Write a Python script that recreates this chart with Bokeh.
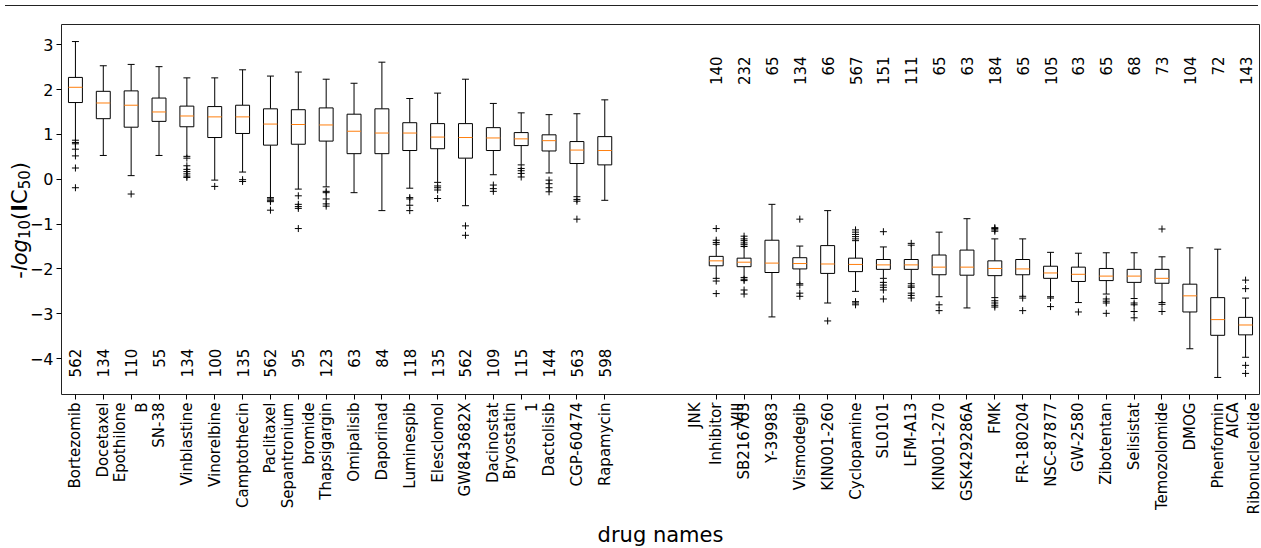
import math
from bokeh.plotting import figure
from bokeh.models import FixedTicker, Div, ColumnDataSource
from bokeh.layouts import column, row
from bokeh.core.properties import value
from bokeh.embed import file_html
from bokeh.resources import INLINE

# ---------------- data ----------------
left_names = ["Bortezomib", "Docetaxel", "Epothilone\nB", "SN-38", "Vinblastine", "Vinorelbine",
              "Camptothecin", "Paclitaxel", "Sepantronium\nbromide", "Thapsigargin", "Omipalisib",
              "Daporinad", "Luminespib", "Elesclomol", "GW843682X", "Dacinostat", "Bryostatin\n1",
              "Dactolisib", "CGP-60474", "Rapamycin"]
left_counts = [562, 134, 110, 55, 134, 100, 135, 562, 95, 123, 63, 84, 118, 135, 562, 109, 115, 144, 563, 598]
left_lo  = [0.87, 0.53, 0.08, 0.53, 0.51, -0.02, 0.16, -0.41, -0.22, -0.17, -0.30, -0.70, -0.20, -0.07, -0.59, 0.10, 0.32, 0.14, -0.39, -0.47]
left_q1  = [1.71, 1.35, 1.16, 1.29, 1.17, 0.93, 1.02, 0.76, 0.78, 0.85, 0.57, 0.57, 0.64, 0.68, 0.47, 0.64, 0.75, 0.63, 0.35, 0.32]
left_med = [2.05, 1.70, 1.65, 1.50, 1.41, 1.39, 1.39, 1.23, 1.22, 1.21, 1.07, 1.03, 1.03, 0.94, 0.93, 0.92, 0.90, 0.86, 0.65, 0.64]
left_q3  = [2.27, 1.96, 1.97, 1.81, 1.63, 1.62, 1.65, 1.57, 1.55, 1.59, 1.45, 1.57, 1.26, 1.24, 1.24, 1.15, 1.04, 0.99, 0.84, 0.95]
left_hi  = [3.07, 2.53, 2.56, 2.51, 2.26, 2.26, 2.44, 2.30, 2.39, 2.23, 2.14, 2.61, 1.80, 1.92, 2.23, 1.69, 1.48, 1.44, 1.46, 1.77]
left_fliers = [
    [0.82, 0.79, 0.67, 0.52, 0.25, -0.19], [], [-0.33], [],
    [0.47, 0.30, 0.22, 0.17, 0.12, 0.07, 0.04], [-0.16], [-0.01, -0.05],
    [-0.44, -0.47, -0.50, -0.69], [-0.37, -0.56, -0.61, -0.65, -1.10],
    [-0.27, -0.30, -0.44, -0.55, -0.60], [], [], [-0.41, -0.44, -0.58, -0.70],
    [-0.15, -0.19, -0.24, -0.43], [-1.04, -1.25], [-0.13, -0.21, -0.27],
    [0.24, 0.19, 0.13, 0.05], [-0.02, -0.10, -0.19, -0.28], [-0.45, -0.49, -0.89], []]

right_names = ["JNK\nInhibitor\nVIII", "SB216763", "Y-39983", "Vismodegib", "KIN001-260", "Cyclopamine",
               "SL0101", "LFM-A13", "KIN001-270", "GSK429286A", "FMK", "FR-180204", "NSC-87877",
               "GW-2580", "Zibotentan", "Selisistat", "Temozolomide", "DMOG", "Phenformin",
               "AICA\nRibonucleotide"]
right_counts = [140, 232, 65, 134, 66, 567, 151, 111, 65, 63, 184, 65, 105, 63, 65, 68, 73, 104, 72, 143]
right_lo  = [-2.21, -2.19, -3.07, -2.33, -2.76, -2.50, -2.21, -2.33, -2.62, -2.87, -2.64, -2.61, -2.62, -2.75, -2.56, -2.66, -2.75, -3.78, -4.42, -3.97]
right_q1  = [-1.93, -1.95, -2.08, -2.00, -2.10, -2.06, -2.01, -2.01, -2.13, -2.14, -2.15, -2.13, -2.21, -2.28, -2.26, -2.30, -2.32, -2.96, -3.48, -3.47]
right_med = [-1.82, -1.85, -1.87, -1.88, -1.89, -1.90, -1.91, -1.91, -1.96, -1.96, -1.99, -2.00, -2.09, -2.12, -2.16, -2.16, -2.21, -2.60, -3.13, -3.25]
right_q3  = [-1.72, -1.76, -1.36, -1.75, -1.48, -1.76, -1.79, -1.79, -1.69, -1.58, -1.82, -1.79, -1.94, -1.96, -1.99, -2.01, -2.01, -2.34, -2.64, -3.08]
right_hi  = [-1.45, -1.50, -0.56, -1.49, -0.70, -1.37, -1.51, -1.47, -1.18, -0.88, -1.33, -1.33, -1.63, -1.65, -1.64, -1.64, -1.73, -1.53, -1.56, -2.65]
right_fliers = [
    [-1.10, -1.36, -1.41, -2.27, -2.55],
    [-1.27, -1.33, -1.37, -1.42, -1.46, -2.23, -2.26, -2.47, -2.56],
    [], [-0.89, -2.36, -2.54, -2.61], [-3.16],
    [-1.13, -1.18, -1.23, -1.28, -1.33, -2.73, -2.76, -2.80],
    [-1.17, -2.30, -2.36, -2.41, -2.47, -2.67],
    [-1.43, -2.38, -2.41, -2.54, -2.59, -2.65],
    [-2.80, -2.93], [],
    [-1.08, -1.10, -1.13, -1.16, -2.71, -2.76, -2.81, -2.85],
    [-2.65, -2.93], [-2.65, -2.84], [-2.96], [-2.67, -2.72, -2.76, -2.99],
    [-2.76, -2.80, -2.95, -3.09], [-1.11, -2.79, -2.95], [], [], [-2.25, -2.44, -4.15, -4.33]]

y_ticks = [-4, -3, -2, -1, 0, 1, 2, 3]

# ---------------- layout of categories ----------------
GAP = 3
left_pos = [i + 1 for i in range(len(left_names))]
right_pos = [len(left_names) + GAP + i + 1 for i in range(len(right_names))]
pos = left_pos + right_pos
names = left_names + right_names
lo = left_lo + right_lo
q1 = left_q1 + right_q1
med = left_med + right_med
q3 = left_q3 + right_q3
hi = left_hi + right_hi
fliers = left_fliers + right_fliers

BW = 0.5   # box width
CW = 0.25  # cap width
X0, X1 = 0.5, pos[-1] + 0.5
Y0, Y1 = -4.8, 3.45

LABW = 16
p = figure(width=1253 - LABW, height=539, output_backend="svg", toolbar_location=None,
           x_range=(X0, X1), y_range=(Y0, Y1),
           min_border_left=32, min_border_right=4, min_border_top=13, min_border_bottom=155)
p.grid.visible = False
p.outline_line_color = "#222222"
p.outline_line_width = 1
p.background_fill_color = "white"
p.border_fill_color = None

src = ColumnDataSource(dict(x=pos, lo=lo, q1=q1, med=med, q3=q3, hi=hi,
                            xl=[x - BW / 2 for x in pos], xr=[x + BW / 2 for x in pos],
                            cl=[x - CW / 2 for x in pos], cr=[x + CW / 2 for x in pos]))

p.segment(x0="x", y0="q3", x1="x", y1="hi", source=src, line_color="black", line_width=1)
p.segment(x0="x", y0="q1", x1="x", y1="lo", source=src, line_color="black", line_width=1)
p.segment(x0="cl", y0="hi", x1="cr", y1="hi", source=src, line_color="black", line_width=1)
p.segment(x0="cl", y0="lo", x1="cr", y1="lo", source=src, line_color="black", line_width=1)
p.quad(left="xl", right="xr", bottom="q1", top="q3", source=src,
       fill_color="white", line_color="black", line_width=1)
p.segment(x0="xl", y0="med", x1="xr", y1="med", source=src, line_color="#ff7f0e", line_width=1)

fx, fy = [], []
for x, fl in zip(pos, fliers):
    for v in fl:
        fx.append(x)
        fy.append(v)
p.scatter(fx, fy, marker="cross", size=7, line_color="black", line_width=1)

p.text(x=left_pos, y=[-3.78] * len(left_pos), text=[str(c) for c in left_counts],
       angle=math.pi / 2, text_align="right", text_baseline="middle",
       text_font=value("DejaVu Sans"), text_font_size="15px", text_color="black")
p.text(x=right_pos, y=[2.74] * len(right_pos), text=[str(c) for c in right_counts],
       angle=math.pi / 2, text_align="right", text_baseline="middle",
       text_font=value("DejaVu Sans"), text_font_size="15px", text_color="black")

p.xaxis.ticker = FixedTicker(ticks=pos)
p.xaxis.major_label_overrides = {x: n for x, n in zip(pos, names)}
p.xaxis.major_label_orientation = math.pi / 2
p.yaxis.ticker = FixedTicker(ticks=y_ticks)
p.yaxis.major_label_overrides = {t: (str(t) if t >= 0 else "\u2212" + str(-t)) for t in y_ticks}
for ax in (p.xaxis[0], p.yaxis[0]):
    ax.axis_line_color = None
    ax.major_tick_in = 0
    ax.major_tick_out = 5
    ax.minor_tick_out = 0
    ax.minor_tick_in = 0
    ax.major_tick_line_color = "black"
    ax.major_label_standoff = 3
    ax.major_label_text_font = "DejaVu Sans"
    ax.major_label_text_font_size = "15px"
    ax.major_label_text_color = "black"
p.yaxis.major_label_text_font_size = "16px"

p.xaxis.axis_label = "drug names"
p.xaxis.axis_label_text_font = "DejaVu Sans"
p.xaxis.axis_label_text_font_size = "21px"
p.xaxis.axis_label_text_font_style = "normal"
p.xaxis.axis_label_text_color = "black"
p.xaxis.axis_label_standoff = 6

# y-axis title as HTML text (reads bottom to top)
ylab_html = ('<div style="font-family:\'DejaVu Sans\'; font-size:21px; line-height:1; color:black; '
             'white-space:nowrap; writing-mode:vertical-rl; transform:rotate(180deg); '
             'margin-top:146px; margin-left:5px;">'
             '-<i>log</i><sub style="font-size:15px">10</sub>(<b>I</b>C<sub style="font-size:15px">50</sub>)'
             '</div>')
ylab = Div(text=ylab_html, width=LABW, height=539, styles={"overflow": "visible", "z-index": "2"})

line = Div(text="", width=1253, height=1, styles={"border-top": "1px solid #222222"})
layout = column(line, row(ylab, p))

open("out.html", "w").write(file_html(layout, INLINE))
